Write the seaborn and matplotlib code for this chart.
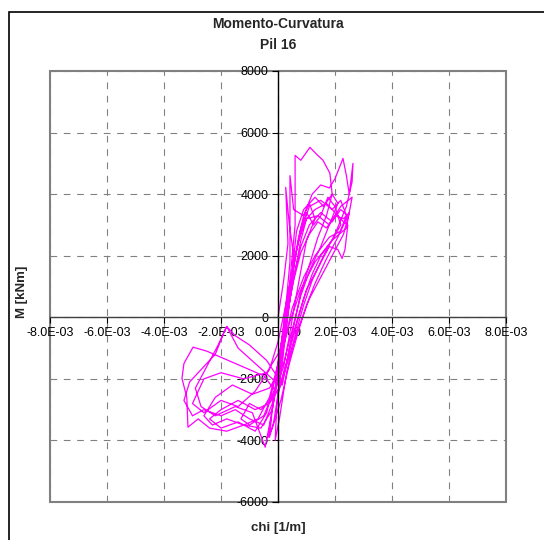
import numpy as np
import pandas as pd
import seaborn as sns
import matplotlib
matplotlib.use('Agg')
import matplotlib.pyplot as plt
from matplotlib.patches import Rectangle

# curvature values in 1E-03 1/m, moment in kNm
chi_e3 = [0.0, 0.2, 0.35, 0.27, 0.4, 0.55, 0.45, 0.3, 0.15, 0.0, -0.15, -0.3, -0.2, 0.0, 0.15, 0.3,
          0.42, 0.42, 0.55, 0.9, 1.1, 1.3, 1.0, 0.8, 0.6, 0.4, 0.2, -0.2, -0.6, -1.0, -1.3, -1.0,
          -0.5, -0.1, 0.1, 0.3, 0.5, 0.65, 0.9, 1.3, 1.6, 1.9, 2.1, 1.8, 1.5, 1.1, 0.8, 0.5,
          0.2, -0.3, -0.9, -1.6, -2.2, -2.6, -2.3, -1.8, -1.2, -0.7, -0.3, 0.0, 0.2, 0.4, 0.5, 0.6,
          0.6, 0.8, 1.12, 1.35, 1.58, 1.82, 1.9, 1.7, 1.4, 1.1, 0.8, 0.55, 0.3, 0.0, -0.5, -1.0,
          -1.5, -2.0, -2.5, -2.98, -3.3, -3.37, -3.2, -3.16, -2.8, -2.4, -1.8, -1.2, -0.6, -0.2, 0.0, 0.2,
          0.4, 0.6, 0.8, 1.0, 1.3, 1.7, 2.0, 2.3, 2.45, 2.35, 2.25, 2.1, 1.8, 1.4, 1.0, 0.7,
          0.4, 0.15, -0.2, -0.8, -1.4, -1.8, -2.1, -2.5, -2.9, -2.7, -2.2, -1.5, -0.9, -0.45, -0.3, -0.1,
          0.1, 0.3, 0.5, 0.7, 0.9, 1.2, 1.5, 1.8, 2.0, 2.28, 2.4, 2.5, 2.63, 2.6, 2.4, 2.0,
          1.6, 1.2, 0.9, 0.6, 0.3, 0.05, -0.1, -0.05, 0.1, 0.3, 0.5, 0.8, 1.1, 1.5, 1.9, 2.2,
          2.45, 2.2, 1.8, 1.3, 0.9, 0.5, 0.2, -0.4, -1.2, -2.0, -2.6, -3.0, -2.6, -2.0, -1.4, -0.8,
          -0.3, 0.0, 0.25, 0.5, 0.75, 1.0, 1.4, 1.8, 2.2, 2.6, 2.4, 1.9, 1.3, 0.8, 0.4, 0.1,
          0.3, 0.55, 0.8, 1.1, 1.4, 1.7, 2.0, 2.3, 2.5, 2.3, 1.9, 1.5, 1.1, 0.7, 0.35, 0.1,
          -0.3, -0.8, -1.4, -2.0, -2.4, -2.0, -1.4, -0.8, -0.4, -0.1, 0.15, 0.4, 0.6, 0.8, 1.0, 1.25,
          1.5, 1.75, 2.0, 2.2, 1.9, 1.5, 1.2, 0.9, 0.6, 0.35, 0.1, -0.4, -1.0, -1.5, -1.8, -1.9,
          -2.2, -2.7, -3.1, -3.3, -3.0, -2.6, -2.0, -1.5, -1.0, -0.5, -0.2, 0.0, 0.2, 0.4, 0.6, 0.85,
          1.1, 1.5, 1.9, 2.2, 2.4, 2.1, 1.7, 1.3, 1.0, 0.7, 0.4, 0.1, -0.2, -0.35, -0.25]
moment = [0, 1200, 2400, 4220, 3000, 2000, 800, -300, -1500, -2500, -3400, -3900, -3000, -1800, -600, 600,
          1800, 4600, 3500, 3300, 3700, 3200, 2500, 1500, 500, -600, -1600, -2600, -3000, -2800, -3300, -3500,
          -3200, -2300, -1000, 300, 1500, 2800, 3500, 3900, 3600, 4000, 3700, 3000, 2300, 1500, 700, -400,
          -1500, -2300, -2500, -2200, -2600, -3200, -3500, -3300, -3500, -3300, -2600, -1500, -300, 1000, 2000, 3000,
          5260, 5100, 5520, 5300, 5100, 4680, 4000, 3300, 2600, 1700, 800, -300, -1500, -2500, -1900, -1700,
          -1500, -1300, -1100, -970, -1500, -1980, -2600, -3570, -3300, -3600, -3700, -3500, -3600, -3000, -2000, -800,
          500, 1500, 2500, 3200, 3500, 3700, 3400, 3100, 3000, 2200, 1910, 2200, 2300, 1600, 900, 0,
          -1000, -2200, -2000, -1500, -1000, -300, -900, -1600, -2300, -2900, -3200, -2900, -3100, -4220, -3500, -2400,
          -1200, 0, 1300, 2500, 3300, 4000, 4300, 4200, 4500, 5160, 4600, 4000, 5000, 4400, 3600, 2700,
          2000, 1200, 400, -600, -1800, -3300, -4000, -3000, -1600, -200, 1100, 2300, 3000, 3400, 3100, 3500,
          3300, 2800, 2600, 2000, 1300, 300, -900, -1800, -2000, -1800, -2000, -2800, -3100, -2700, -2900, -2400,
          -1700, -800, 300, 1500, 2600, 3200, 3300, 3000, 3600, 3900, 2900, 2500, 1800, 900, -200, -1300,
          0, 1200, 2100, 2700, 3100, 2900, 3300, 3200, 3400, 2700, 2000, 1300, 600, -400, -1400, -2200,
          -2800, -3000, -2700, -3000, -3300, -3600, -3400, -3700, -3100, -2000, -700, 700, 1900, 2900, 3400, 3000,
          3300, 3900, 3600, 3000, 2500, 2000, 1400, 600, -400, -1300, -2100, -1400, -900, -600, -300, -500,
          -1200, -1700, -2100, -2700, -3200, -3000, -3200, -3000, -3300, -3500, -2800, -1800, -500, 800, 2000, 2900,
          3600, 3800, 3500, 3800, 3300, 2600, 1900, 1100, 400, -500, -1500, -2700, -3600, -3900, -3300]

x_ticks = [-8e-3, -6e-3, -4e-3, -2e-3, 0.0, 2e-3, 4e-3, 6e-3, 8e-3]
y_ticks = [-6000, -4000, -2000, 0, 2000, 4000, 6000, 8000]

df = pd.DataFrame({'chi': np.array(chi_e3) * 1e-3, 'M': moment})

sns.set_style('white')
plt.rcParams['font.family'] = ['Liberation Sans', 'DejaVu Sans']

fig = plt.figure(figsize=(5.44, 5.40), dpi=100)
ax = fig.add_axes([50 / 544, 1 - 502 / 540, 456 / 544, 431 / 540])

sns.lineplot(data=df, x='chi', y='M', sort=False, estimator=None,
             color='#FF00FF', linewidth=0.9, ax=ax)

ax.set_xlim(-8e-3, 8e-3)
ax.set_ylim(-6000, 8000)
ax.set_xticks(x_ticks)
ax.set_yticks(y_ticks)
ax.set_xticklabels([f'{v:.1E}' for v in x_ticks])
ax.set_yticklabels([str(v) for v in y_ticks])
ax.set_xlabel('')
ax.set_ylabel('')

# dashed grid, axes crossing at the origin
ax.grid(True, color='#808080', linestyle=(0, (6, 6)), linewidth=0.8)
ax.set_axisbelow(True)
for side in ['top', 'right']:
    ax.spines[side].set_visible(False)
ax.spines['left'].set_position(('data', 0))
ax.spines['bottom'].set_position(('data', 0))
ax.spines['left'].set_color('black')
ax.spines['bottom'].set_color('#404040')
ax.spines['left'].set_linewidth(1.0)
ax.spines['bottom'].set_linewidth(1.0)
ax.tick_params(bottom=True, left=True, direction='out', length=4, width=0.8,
               labelsize=9, pad=3, colors='black')

# grey frame of the plot area
ax.add_patch(Rectangle((0, 0), 1, 1, transform=ax.transAxes, fill=False,
                       edgecolor='#808080', linewidth=1.5, clip_on=False, zorder=0.5))

# outer chart border
fig.add_artist(Rectangle((9 / 544, -0.1), 1.2, 1 - 12 / 540 + 0.1, transform=fig.transFigure,
                         fill=False, edgecolor='black', linewidth=1.2))

fig.text(0.511, 1 - 24 / 540, 'Momento-Curvatura', ha='center', va='center',
         fontsize=10, fontweight='bold')
fig.text(0.511, 1 - 45 / 540, 'Pil 16', ha='center', va='center',
         fontsize=10, fontweight='bold')
fig.text(0.511, 1 - 528 / 540, 'chi [1/m]', ha='center', va='center',
         fontsize=9.5, fontweight='bold')
fig.text(22 / 544, 1 - 292 / 540, 'M [kNm]', ha='center', va='center', rotation=90,
         fontsize=9.5, fontweight='bold')

plt.savefig('out.png', dpi=100)
